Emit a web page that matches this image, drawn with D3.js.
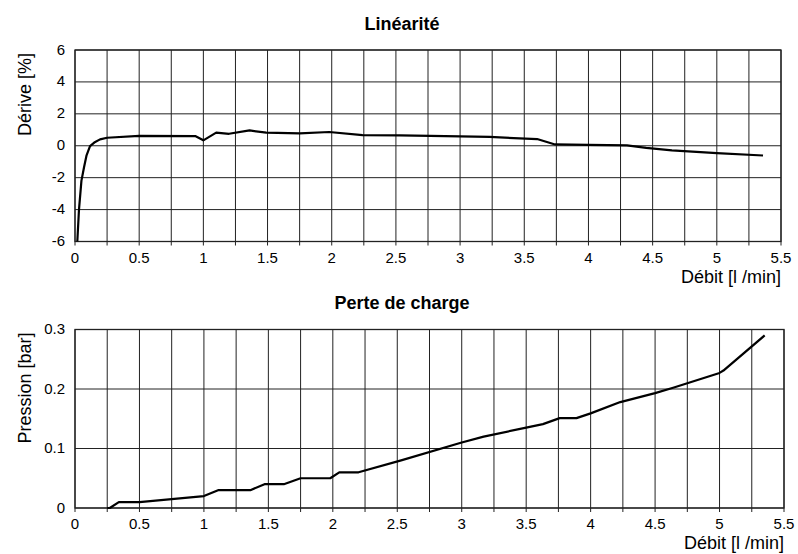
<!DOCTYPE html>
<html>
<head>
<meta charset="utf-8">
<script src="https://cdn.jsdelivr.net/npm/d3@7"></script>
<style>
  body { margin: 0; background: #fff; }
  svg { display: block; font-family: "Liberation Sans", Arial, sans-serif; }
</style>
</head>
<body>
<div id="chart"></div>
<script>
// Linéarité : dérive (%) en fonction du débit
const deriveDebit = [0.018, 0.031, 0.05, 0.07, 0.09, 0.117, 0.15, 0.195, 0.25, 0.5, 0.94, 1.0, 1.1, 1.2, 1.36, 1.49, 1.75, 1.98, 2.24, 2.53, 3.0, 3.23, 3.6, 3.74, 4.0, 4.3, 4.45, 4.65, 5.0, 5.36];
const deriveValeurs = [-6, -4, -2.2, -1.36, -0.6, -0.02, 0.2, 0.4, 0.5, 0.62, 0.6, 0.34, 0.82, 0.75, 0.96, 0.82, 0.78, 0.86, 0.67, 0.65, 0.59, 0.55, 0.42, 0.08, 0.06, 0.02, -0.13, -0.29, -0.46, -0.61];
const deriveTicks = [-6, -4, -2, 0, 2, 4, 6];

// Perte de charge : pression (bar) en fonction du débit
const pressionDebit = [0.25, 0.27, 0.34, 0.5, 1.0, 1.11, 1.36, 1.47, 1.62, 1.75, 1.98, 2.05, 2.2, 2.53, 3.0, 3.17, 3.5, 3.63, 3.76, 3.89, 4.0, 4.23, 4.5, 4.64, 5.0, 5.03, 5.35];
const pressionValeurs = [0, 0, 0.01, 0.01, 0.02, 0.03, 0.03, 0.04, 0.04, 0.05, 0.05, 0.06, 0.06, 0.08, 0.11, 0.12, 0.135, 0.141, 0.151, 0.151, 0.159, 0.178, 0.193, 0.202, 0.227, 0.231, 0.29];
const pressionTicks = [0, 0.1, 0.2, 0.3];

// Axe X commun
const debitTicks = [0, 0.5, 1, 1.5, 2, 2.5, 3, 3.5, 4, 4.5, 5, 5.5];
const debitGrille = d3.range(0, 5.51, 0.25);

const svg = d3.select("#chart").append("svg")
    .attr("width", 798)
    .attr("height", 554);

function drawPanel(opts) {
    const { left, right, top, bottom, titre, titreY, labelY, xs, ys, yTicks, yFmt, labelRight } = opts;

    const x = d3.scaleLinear().domain([0, 5.5]).range([left, right]);
    const y = d3.scaleLinear().domain([yTicks[0], yTicks[yTicks.length - 1]]).range([bottom, top]);

    const g = svg.append("g");

    // grille verticale (tous les 0.25)
    g.append("g").selectAll("line")
        .data(debitGrille)
        .join("line")
        .attr("x1", d => x(d)).attr("x2", d => x(d))
        .attr("y1", top).attr("y2", bottom + 4)
        .attr("stroke", "#222").attr("stroke-width", 1);

    // grille horizontale
    g.append("g").selectAll("line")
        .data(yTicks)
        .join("line")
        .attr("x1", left).attr("x2", right)
        .attr("y1", d => y(d)).attr("y2", d => y(d))
        .attr("stroke", "#222").attr("stroke-width", 1);

    // cadre
    g.append("rect")
        .attr("x", left).attr("y", top)
        .attr("width", right - left).attr("height", bottom - top)
        .attr("fill", "none").attr("stroke", "#222").attr("stroke-width", 1.3);

    // étiquettes X
    g.append("g").selectAll("text")
        .data(debitTicks)
        .join("text")
        .attr("x", d => x(d))
        .attr("y", bottom + 21)
        .attr("text-anchor", "middle")
        .style("font-size", "15px")
        .text(d => d);

    // étiquettes Y
    g.append("g").selectAll("text")
        .data(yTicks)
        .join("text")
        .attr("x", left - 10)
        .attr("y", d => y(d))
        .attr("dy", "0.3em")
        .attr("text-anchor", "end")
        .style("font-size", "15px")
        .text(yFmt);

    // titre
    g.append("text")
        .attr("x", 402).attr("y", titreY)
        .attr("text-anchor", "middle")
        .style("font-size", "18px").style("font-weight", "bold")
        .text(titre);

    // titre axe Y (aligné en haut)
    g.append("text")
        .attr("transform", `translate(31,${top + 3}) rotate(-90)`)
        .attr("text-anchor", "end")
        .style("font-size", "18px")
        .text(labelY);

    // titre axe X
    g.append("text")
        .attr("x", labelRight).attr("y", bottom + 41)
        .attr("text-anchor", "end")
        .style("font-size", "18px")
        .text("Débit [l /min]");

    // courbe
    const pts = xs.map((d, i) => [d, ys[i]]);
    g.append("path")
        .datum(pts)
        .attr("fill", "none")
        .attr("stroke", "#000").attr("stroke-width", 2.2)
        .attr("stroke-linejoin", "round")
        .attr("d", d3.line().x(d => x(d[0])).y(d => y(d[1])));
}

drawPanel({
    left: 75, right: 781, top: 50, bottom: 241.5,
    titre: "Linéarité", titreY: 30,
    labelY: "Dérive [%]",
    xs: deriveDebit, ys: deriveValeurs,
    yTicks: deriveTicks, yFmt: d => d,
    labelRight: 781
});

drawPanel({
    left: 75, right: 784, top: 329.5, bottom: 508,
    titre: "Perte de charge", titreY: 309,
    labelY: "Pression [bar]",
    xs: pressionDebit, ys: pressionValeurs,
    yTicks: pressionTicks, yFmt: d => d,
    labelRight: 784
});
</script>
</body>
</html>
